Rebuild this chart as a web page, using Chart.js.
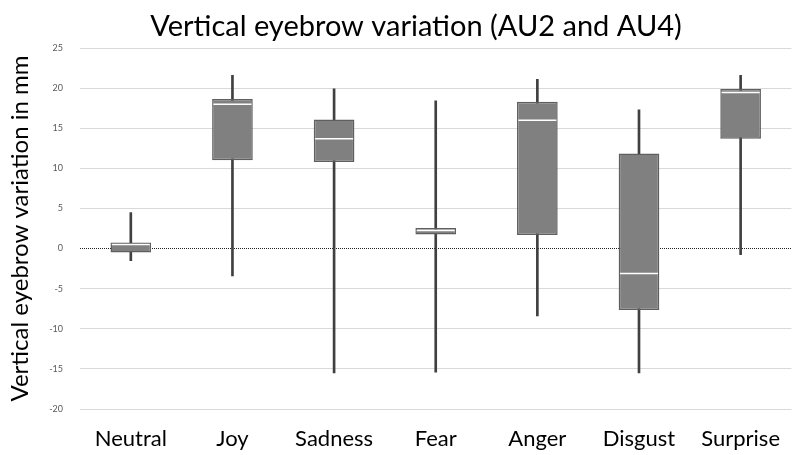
<!DOCTYPE html>
<html>
<head>
<meta charset="utf-8">
<script src="https://cdn.jsdelivr.net/npm/chart.js@4.4.0/dist/chart.umd.min.js"></script>
<style>
  html, body { margin: 0; padding: 0; background: #fff; overflow: hidden; }
  #wrap { width: 797px; height: 455px; }
</style>
</head>
<body>
<div id="wrap"><canvas id="boxChart"></canvas></div>
<script>
// emotions and their box plot values (mm)
const emotions = ['Neutral', 'Joy', 'Sadness', 'Fear', 'Anger', 'Disgust', 'Surprise'];
const mins    = [-1.5, -3.4, -15.5, -15.4, -8.4, -15.5, -0.75];
const q1      = [-0.5, 11.0, 10.8, 1.75, 1.7, -7.65, 13.7];
const medians = [0.5, 18.0, 13.7, 2.24, 16.0, -3.1, 19.45];
const q3      = [0.75, 18.65, 16.1, 2.57, 18.3, 11.85, 19.9];
const maxs    = [4.5, 21.6, 19.9, 18.4, 21.1, 17.3, 21.6];
const yTicks  = [-20, -15, -10, -5, 0, 5, 10, 15, 20, 25];

const fontFamily = 'Lato, "Liberation Sans", sans-serif';

// title drawn over the plot (centred a bit left of the plot centre, as in the original)
const titlePlugin = {
    id: 'chartTitle',
    afterDraw(chart) {
        const ctx = chart.ctx;
        ctx.save();
        ctx.font = '29px ' + fontFamily;
        ctx.fillStyle = '#000';
        ctx.textAlign = 'center';
        ctx.textBaseline = 'middle';
        ctx.fillText('Vertical eyebrow variation (AU2 and AU4)', 416, 27);
        ctx.restore();
    }
};

const ctx = document.getElementById('boxChart').getContext('2d');
const boxChart = new Chart(ctx, {
    type: 'bar',
    data: {
        labels: emotions,
        datasets: [
            {
                type: 'line',
                label: 'Median',
                data: medians,
                showLine: false,
                pointStyle: 'line',
                pointRadius: 19,
                pointBorderColor: '#ffffff',
                pointBorderWidth: 1.5,
                order: 0
            },
            {
                label: 'Box',
                data: emotions.map((e, i) => [q1[i], q3[i]]),
                backgroundColor: '#808080',
                borderColor: '#5f5f5f',
                borderWidth: 1.5,
                borderSkipped: false,
                barPercentage: 0.4,
                categoryPercentage: 1.0,
                grouped: false,
                order: 1
            },
            {
                label: 'Whisker',
                data: emotions.map((e, i) => [mins[i], maxs[i]]),
                backgroundColor: '#404040',
                barThickness: 2,
                grouped: false,
                order: 2
            }
        ]
    },
    options: {
        responsive: true,
        maintainAspectRatio: false,
        animation: false,
        events: [],
        layout: { autoPadding: false, padding: { top: 48, right: 0, bottom: 0, left: 0 } },
        plugins: {
            legend: { display: false },
            title: { display: false },
            tooltip: { enabled: false }
        },
        scales: {
            x: {
                grid: { display: false, drawTicks: false },
                border: { display: false },
                ticks: {
                    color: '#000',
                    padding: 17,
                    font: { family: fontFamily, size: 22 }
                },
                afterFit: s => { s.height = 46; }
            },
            y: {
                min: -20,
                max: 25,
                afterBuildTicks: s => { s.ticks = yTicks.map(v => ({ value: v })); },
                grid: {
                    drawTicks: false,
                    color: c => c.tick && c.tick.value === 0 ? '#222' : '#d9d9d9',
                    lineWidth: 1
                },
                border: {
                    display: false,
                    dash: c => c.tick && c.tick.value === 0 ? [1, 1] : []
                },
                ticks: {
                    color: '#595959',
                    padding: 17,
                    font: { family: fontFamily, size: 9 }
                },
                title: {
                    display: true,
                    text: 'Vertical eyebrow variation in mm',
                    color: '#000',
                    padding: { top: 6, bottom: 0 },
                    font: { family: fontFamily, size: 24 }
                },
                afterFit: s => { s.width = 80; }
            }
        }
    },
    plugins: [titlePlugin]
});
</script>
</body>
</html>
